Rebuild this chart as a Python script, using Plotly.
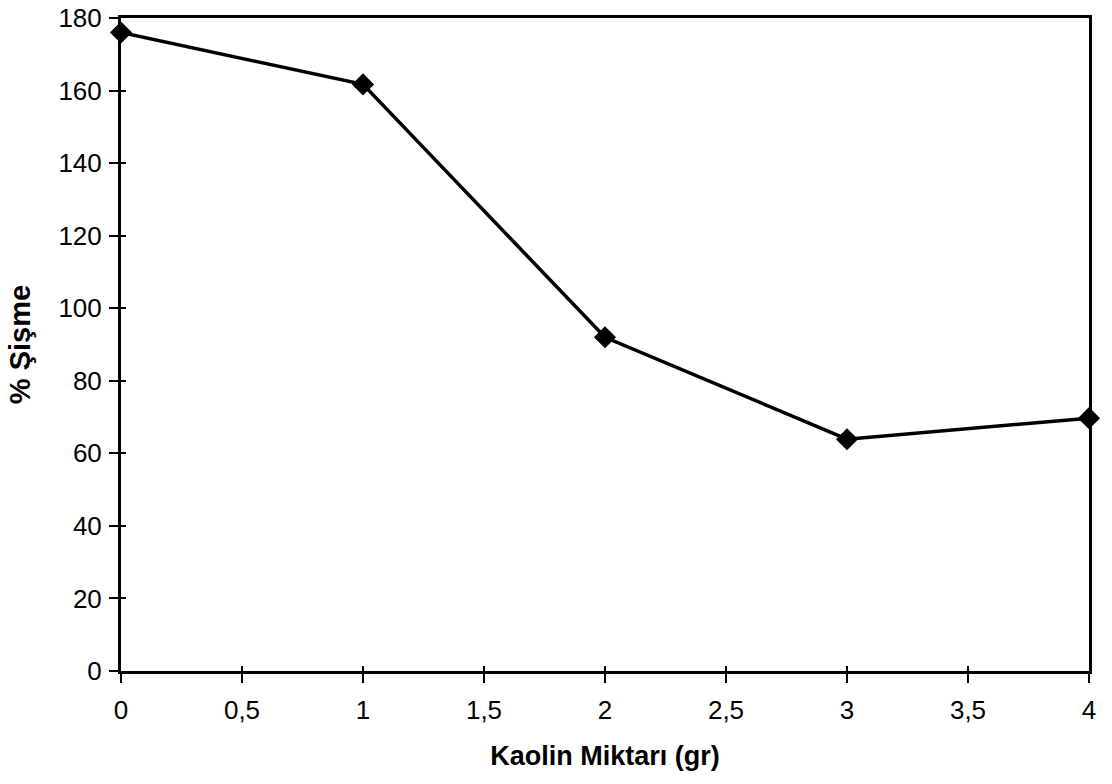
import plotly.graph_objects as go

# Kaolin amount (gr) vs. swelling percentage
kaolin_gr = [0, 1, 2, 3, 4]
sisme_pct = [176.0, 161.7, 92.0, 63.9, 69.7]

x_tick_vals = [0, 0.5, 1, 1.5, 2, 2.5, 3, 3.5, 4]
x_tick_text = ["0", "0,5", "1", "1,5", "2", "2,5", "3", "3,5", "4"]
y_tick_vals = [0, 20, 40, 60, 80, 100, 120, 140, 160, 180]

font_family = "Liberation Sans, Arial, sans-serif"

fig = go.Figure()

fig.add_trace(go.Scatter(
    x=kaolin_gr,
    y=sisme_pct,
    mode="lines+markers",
    line=dict(color="black", width=3.5),
    marker=dict(symbol="diamond", size=17, color="black"),
    cliponaxis=False,
    showlegend=False,
    hoverinfo="x+y",
))

# invisible trace on overlay axes so the inner half of the cross ticks is drawn
fig.add_trace(go.Scatter(
    x=[kaolin_gr[0]], y=[sisme_pct[0]],
    xaxis="x2", yaxis="y2",
    mode="markers", marker=dict(opacity=0),
    showlegend=False, hoverinfo="skip",
))

axis_common = dict(
    showgrid=False,
    zeroline=False,
    showline=True,
    linecolor="black",
    linewidth=3,
    mirror=True,
    automargin=False,
    ticks="outside",
    ticklen=9,
    tickwidth=1.5,
    tickcolor="black",
    tickfont=dict(family=font_family, size=26, color="black"),
)

fig.update_layout(
    width=1112,
    height=784,
    margin=dict(l=121, r=23, t=18, b=113),
    paper_bgcolor="white",
    plot_bgcolor="white",
    xaxis=dict(
        **axis_common,
        range=[0, 4],
        tickvals=x_tick_vals,
        ticktext=x_tick_text,
        ticklabelstandoff=5,
        title=dict(
            text="<b>Kaolin Miktarı (gr)</b>",
            font=dict(family=font_family, size=27, color="black"),
            standoff=22,
        ),
    ),
    yaxis=dict(
        **axis_common,
        range=[0, 180],
        tickvals=y_tick_vals,
        ticklabelstandoff=2,
        title=dict(
            text="<b>% Şişme</b>",
            font=dict(family=font_family, size=29, color="black"),
            standoff=20,
        ),
    ),
    xaxis2=dict(
        overlaying="x", matches="x", range=[0, 4], tickvals=x_tick_vals,
        showticklabels=False, showgrid=False, zeroline=False, showline=False,
        ticks="inside", ticklen=5, tickwidth=1.5, tickcolor="black",
    ),
    yaxis2=dict(
        overlaying="y", matches="y", range=[0, 180], tickvals=y_tick_vals,
        showticklabels=False, showgrid=False, zeroline=False, showline=False,
        ticks="inside", ticklen=5, tickwidth=1.5, tickcolor="black",
    ),
)

fig.write_html("out.html")
